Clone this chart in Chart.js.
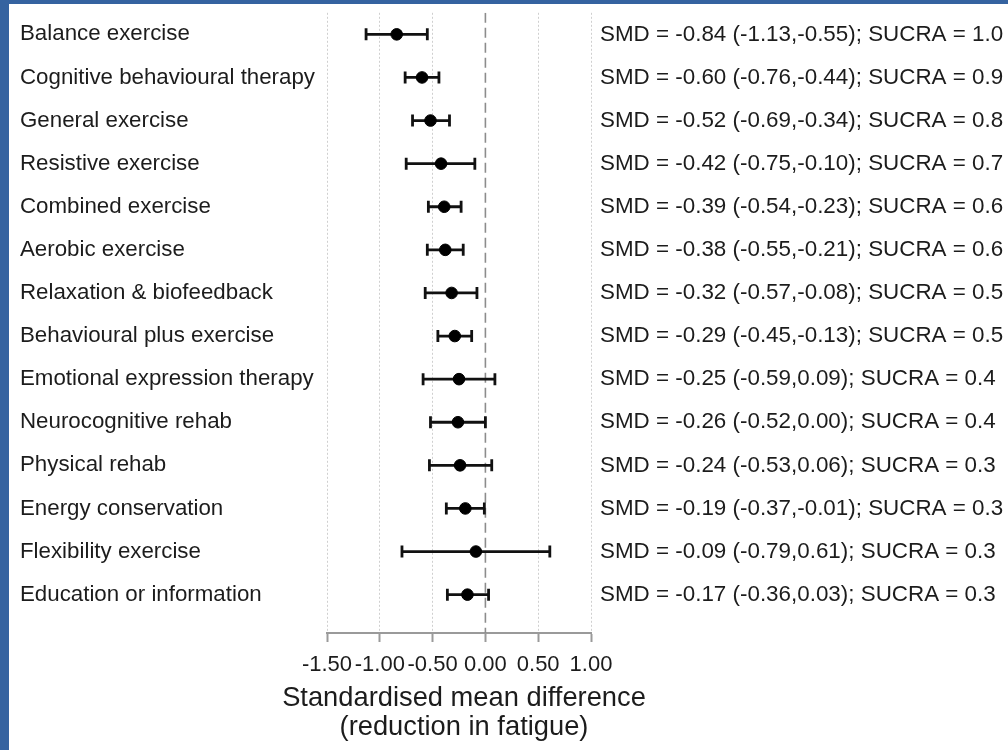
<!DOCTYPE html>
<html>
<head>
<meta charset="utf-8">
<script src="https://cdn.jsdelivr.net/npm/chart.js@4.4.1/dist/chart.umd.min.js"></script>
<style>
  html, body { margin: 0; padding: 0; }
  body { width: 1008px; height: 750px; background: #3563a0; position: relative; overflow: hidden; }
  #wrap { position: absolute; left: 9px; top: 4px; width: 999px; height: 746px; background: #fff; }
</style>
</head>
<body>
<div id="wrap"><canvas id="forest"></canvas></div>
<script>
// Intervenções (de cima para baixo) e valores
const treatments = [
  'Balance exercise',
  'Cognitive behavioural therapy',
  'General exercise',
  'Resistive exercise',
  'Combined exercise',
  'Aerobic exercise',
  'Relaxation & biofeedback',
  'Behavioural plus exercise',
  'Emotional expression therapy',
  'Neurocognitive rehab',
  'Physical rehab',
  'Energy conservation',
  'Flexibility exercise',
  'Education or information'
];
const smd   = [-0.84, -0.60, -0.52, -0.42, -0.39, -0.38, -0.32, -0.29, -0.25, -0.26, -0.24, -0.19, -0.09, -0.17];
const lower = [-1.13, -0.76, -0.69, -0.75, -0.54, -0.55, -0.57, -0.45, -0.59, -0.52, -0.53, -0.37, -0.79, -0.36];
const upper = [-0.55, -0.44, -0.34, -0.10, -0.23, -0.21, -0.08, -0.13, 0.09, 0.00, 0.06, -0.01, 0.61, 0.03];
const sucra = [1.0, 0.9, 0.8, 0.7, 0.6, 0.6, 0.5, 0.5, 0.4, 0.4, 0.3, 0.3, 0.3, 0.3];
const xTicks = [-1.5, -1.0, -0.5, 0.0, 0.5, 1.0];
const xTitle = ['Standardised mean difference', '(reduction in fatigue)'];

const FONT = 'Liberation Sans, Arial, Helvetica, sans-serif';
const TEXT = '#1c1c1c';
const Y_MIN = 0.5;
const Y_MAX = 14.89;

// Texto da direita: SMD (IC); SUCRA
const summaryText = treatments.map((_, i) =>
  `SMD = ${smd[i].toFixed(2)} (${lower[i].toFixed(2)},${upper[i].toFixed(2)}); SUCRA = ${sucra[i].toFixed(1)}`
);

// Uma linha por intervalo de confiança, com "caps" verticais
const ciDatasets = treatments.map((_, i) => ({
  data: [{x: lower[i], y: i + 1}, {x: upper[i], y: i + 1}],
  showLine: true,
  borderColor: '#111',
  borderWidth: 2.8,
  pointStyle: 'line',
  pointRotation: 90,
  pointRadius: 6,
  pointBorderWidth: 2.8,
  pointBorderColor: '#111',
  order: 2
}));

const rowTicks = scale => { scale.ticks = treatments.map((_, i) => ({value: i + 1})); };

// O título do eixo é mais largo que a área do gráfico: alarga a caixa só ao desenhar o título
function widenTitle(scale) {
  if (scale._wideTitle) return;
  scale._wideTitle = true;
  scale.drawTitle = function () {
    const l = this.left, r = this.right;
    this.left = l - 60;
    this.right = r + 70;
    Chart.Scale.prototype.drawTitle.call(this);
    this.left = l;
    this.right = r;
  };
}

new Chart(document.getElementById('forest'), {
  type: 'scatter',
  data: {
    datasets: [
      {
        data: smd.map((v, i) => ({x: v, y: i + 1})),
        pointRadius: 5.8,
        backgroundColor: '#000',
        borderColor: '#000',
        borderWidth: 1,
        order: 1
      },
      ...ciDatasets,
      {
        // linha de referência em zero (tracejada)
        data: [{x: 0, y: Y_MIN}, {x: 0, y: Y_MAX}],
        showLine: true,
        borderColor: '#8c8c8c',
        borderWidth: 1.6,
        borderDash: [10, 5],
        pointRadius: 0,
        order: 3
      }
    ]
  },
  options: {
    responsive: true,
    maintainAspectRatio: false,
    animation: false,
    events: [],
    layout: { padding: { left: 11, top: 7, right: 0, bottom: 0 } },
    plugins: { legend: { display: false }, tooltip: { enabled: false } },
    scales: {
      x: {
        type: 'linear',
        min: -1.5,
        max: 1.0,
        afterBuildTicks: s => { s.ticks = xTicks.map(v => ({value: v})); },
        afterFit: s => { s.height = 117; s.paddingLeft = 0; s.paddingRight = 0; widenTitle(s); },
        ticks: {
          autoSkip: false,
          maxRotation: 0,
          padding: 10,
          color: TEXT,
          font: { family: FONT, size: 22 },
          callback: v => Number(v).toFixed(2)
        },
        grid: {
          color: ctx => (ctx.tick && ctx.tick.value === 0) ? 'rgba(0,0,0,0)' : '#cfcfcf',
          lineWidth: 1,
          tickColor: '#9a9a9a',
          tickLength: 9,
          tickWidth: 2
        },
        border: { display: true, color: '#9a9a9a', width: 2, dash: [2, 2] },
        title: {
          display: true,
          text: xTitle,
          color: TEXT,
          font: { family: FONT, size: 27.3, lineHeight: 29 / 27.3 },
          padding: { top: 0, bottom: 8.5 }
        }
      },
      y: {
        type: 'linear',
        position: 'left',
        reverse: true,
        min: Y_MIN,
        max: Y_MAX,
        afterBuildTicks: rowTicks,
        afterFit: s => { s.width = 307; s.paddingTop = 0; s.paddingBottom = 0; },
        ticks: {
          crossAlign: 'far',
          color: TEXT,
          font: { family: FONT, size: 22.3 },
          callback: v => treatments[v - 1]
        },
        grid: { display: false, drawTicks: false },
        border: { display: false }
      },
      y2: {
        type: 'linear',
        position: 'right',
        reverse: true,
        min: Y_MIN,
        max: Y_MAX,
        afterBuildTicks: rowTicks,
        afterFit: s => { s.width = 417; s.paddingTop = 0; s.paddingBottom = 0; },
        ticks: {
          crossAlign: 'near',
          padding: 9,
          color: TEXT,
          font: { family: FONT, size: 22.4 },
          callback: v => summaryText[v - 1]
        },
        grid: { display: false, drawTicks: false },
        border: { display: false }
      }
    }
  }
});
</script>
</body>
</html>
